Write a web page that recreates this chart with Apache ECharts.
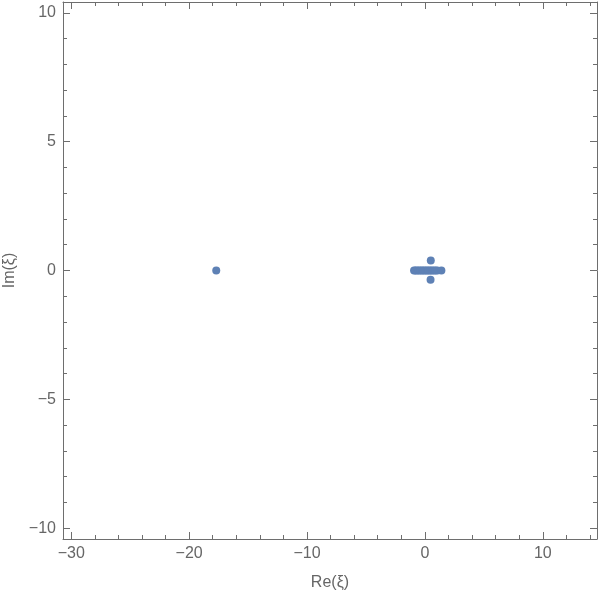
<!DOCTYPE html>
<html>
<head>
<meta charset="utf-8">
<script src="https://cdn.jsdelivr.net/npm/echarts@6/dist/echarts.min.js"></script>
<style>
  html, body { margin: 0; padding: 0; background: #fff; }
  #main { width: 600px; height: 591px; }
</style>
</head>
<body>
<div id="main"></div>
<script>
// points (Re, Im)
var reVals = [-17.7, -0.92, -0.8, -0.66, -0.52, -0.38, -0.24, -0.1, 0.04, 0.18, 0.32, 0.46, 0.6, 0.75, 0.9, 1.05, 1.4, 0.5, 0.48]
var imVals = [0, 0, 0, 0, 0, 0, 0, 0, 0, 0, 0, 0, 0, 0, 0, 0, 0, 0.39, -0.36]

// ticks
var xMajor = [-30, -20, -10, 0, 10]
var xMinor = [-28, -26, -24, -22, -18, -16, -14, -12, -8, -6, -4, -2, 2, 4, 6, 8, 12, 14]
var yMajor = [-10, -5, 0, 5, 10]
var yMinor = [-9, -8, -7, -6, -4, -3, -2, -1, 1, 2, 3, 4, 6, 7, 8, 9]

var xMin = -30.7, xMax = 14.6
var yMin = -10.42, yMax = 10.42

var frameColor = '#6e6e6e'
var textColor = '#666'
var fontFam = 'Liberation Sans, Arial, sans-serif'

function fmt(v) {
    return v < 0 ? '\u2212' + Math.abs(v) : String(v)
}

// one axis of the frame: major ticks (with or w/o labels) or minor ticks only
function makeAxis(pos, min, max, ticks, len, withLine, withLabel) {
    return {
        type: 'value',
        position: pos,
        min: min,
        max: max,
        splitLine: {show: false},
        axisLine: {show: withLine, onZero: false, lineStyle: {color: frameColor, width: 1}},
        axisTick: {show: true, inside: true, length: len, customValues: ticks,
            lineStyle: {color: frameColor, width: 1}},
        axisLabel: {show: withLabel, customValues: ticks, formatter: fmt,
            color: textColor, fontSize: 16, fontFamily: fontFam, margin: 7}
    }
}

var xBottom = makeAxis('bottom', xMin, xMax, xMajor, 7, true, true)
xBottom.name = 'Re(\u03be)'
xBottom.nameLocation = 'middle'
xBottom.nameGap = 36
xBottom.nameTextStyle = {color: textColor, fontSize: 16, fontFamily: fontFam}

var yLeft = makeAxis('left', yMin, yMax, yMajor, 7, true, true)
yLeft.name = 'Im(\u03be)'
yLeft.nameLocation = 'middle'
yLeft.nameGap = 43
yLeft.nameTextStyle = {color: textColor, fontSize: 16, fontFamily: fontFam}

var data = reVals.map(function (r, i) { return [r, imVals[i]] })

var option = {
    animation: false,
    backgroundColor: '#fff',
    grid: {left: 63, right: 3, top: 2, bottom: 52, containLabel: false, outerBoundsMode: 'none'},
    xAxis: [
        xBottom,
        makeAxis('bottom', xMin, xMax, xMinor, 4, false, false),
        makeAxis('top', xMin, xMax, xMajor, 7, true, false),
        makeAxis('top', xMin, xMax, xMinor, 4, false, false)
    ],
    yAxis: [
        yLeft,
        makeAxis('left', yMin, yMax, yMinor, 4, false, false),
        makeAxis('right', yMin, yMax, yMajor, 7, true, false),
        makeAxis('right', yMin, yMax, yMinor, 4, false, false)
    ],
    series: [{
        type: 'scatter',
        xAxisIndex: 0,
        yAxisIndex: 0,
        symbolSize: 8,
        itemStyle: {color: '#5e81b5', opacity: 1},
        data: data
    }]
}

var chart = echarts.init(document.getElementById('main'))
chart.setOption(option)
</script>
</body>
</html>
